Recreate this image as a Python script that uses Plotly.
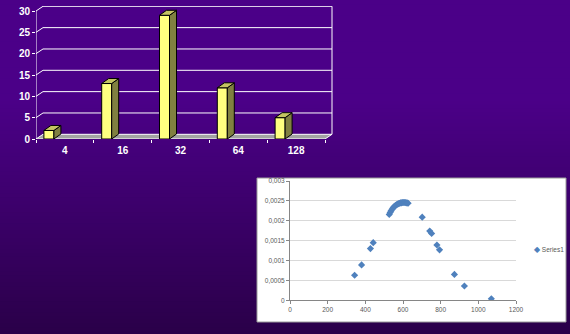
import plotly.graph_objects as go

# ---------------- data ----------------
categories = ["4", "16", "32", "64", "128"]
counts = [2, 13, 29, 12, 5]
bar_y_ticks = [0, 5, 10, 15, 20, 25, 30]

scatter_x = [343, 380, 427, 442,
             527, 532, 537, 542, 547, 552, 557, 562, 567, 572, 577,
             582, 587, 592, 597, 602, 607, 612, 617, 622, 627,
             702, 742, 752, 780, 794, 873, 926, 1069]
scatter_y = [0.00063, 0.00089, 0.00130, 0.00145,
             0.00216, 0.00221, 0.00225, 0.00229, 0.00232, 0.00235, 0.00237,
             0.00239, 0.00241, 0.00242, 0.00243, 0.00244, 0.00245, 0.00245,
             0.00246, 0.00246, 0.00246, 0.00246, 0.00245, 0.00245, 0.00244,
             0.00209, 0.00174, 0.00168, 0.00139, 0.00127, 0.00065, 0.00036, 0.00004]
sc_x_ticks = [0, 200, 400, 600, 800, 1000, 1200]
sc_y_ticks = [0, 0.0005, 0.001, 0.0015, 0.002, 0.0025, 0.003]
sc_y_text = ["0", "0,0005", "0,001", "0,0015", "0,002", "0,0025", "0,003"]
series_name = "Series1"

# ---------------- geometry (styles) ----------------
W, H = 570, 334
CAT_PX = 57.8
Y_PX = 128 / 30
BAR_OFF = -21 / CAT_PX
BAR_W = 10 / CAT_PX
DX = 7 / CAT_PX
DY = 5 / Y_PX
WDX = 7 / CAT_PX
WDY = 4.7 / Y_PX
X_LEFT = -0.5
X_RIGHT_FRONT = len(categories) - 0.5


def px_x(p):
    return p / W


def px_y(p):
    return 1 - p / H


fig = go.Figure()

idx = list(range(len(categories)))

# front faces
fig.add_trace(go.Bar(
    x=idx, y=counts, width=BAR_W, offset=BAR_OFF,
    marker=dict(color="#FFFF80", line=dict(color="black", width=1)),
    xaxis="x", yaxis="y", showlegend=False, hoverinfo="skip"))

# side and top faces (derived from values)
sx, sy, tx, ty = [], [], [], []
for i, v in zip(idx, counts):
    xl = i + BAR_OFF
    xr = xl + BAR_W
    sx += [xr, xr + DX, xr + DX, xr, xr, None]
    sy += [0, DY, v + DY, v, 0, None]
    tx += [xl, xl + DX, xr + DX, xr, xl, None]
    ty += [v, v + DY, v + DY, v, v, None]
fig.add_trace(go.Scatter(x=sx, y=sy, mode="lines", fill="toself",
                         fillcolor="#808040", line=dict(color="black", width=1),
                         xaxis="x", yaxis="y", showlegend=False, hoverinfo="skip"))
fig.add_trace(go.Scatter(x=tx, y=ty, mode="lines", fill="toself",
                         fillcolor="#C4C462", line=dict(color="black", width=1),
                         xaxis="x", yaxis="y", showlegend=False, hoverinfo="skip"))

# scatter
fig.add_trace(go.Scatter(
    x=scatter_x, y=scatter_y, mode="markers", name=series_name,
    marker=dict(symbol="diamond", size=5.5, color="#4F81BD"),
    xaxis="x2", yaxis="y2", showlegend=False))

shapes = []
# background gradient
top = (75, 0, 136)
bot = (42, 0, 72)
N = 90
for k in range(N):
    y0 = k / N
    y1 = (k + 1) / N
    t = 1 - (y0 + y1) / 2  # 0 at top, 1 at bottom
    f = max(0.0, (t - 0.3) / 0.7)
    c = tuple(round(top[j] + (bot[j] - top[j]) * f) for j in range(3))
    shapes.append(dict(type="rect", xref="paper", yref="paper",
                       x0=0, x1=1, y0=y0 - 0.002, y1=y1 + 0.002,
                       fillcolor="rgb(%d,%d,%d)" % c, line=dict(width=0),
                       layer="below"))
# white box for scatter
shapes.append(dict(type="rect", xref="paper", yref="paper",
                   x0=px_x(257), x1=px_x(566), y0=px_y(322), y1=px_y(178),
                   fillcolor="white", line=dict(color="#9A9A9A", width=1),
                   layer="below"))

# 3D floor
shapes.append(dict(type="path", xref="x", yref="y",
                   path="M %f,0 L %f,0 L %f,%f L %f,%f Z" % (
                       X_LEFT, X_RIGHT_FRONT, X_RIGHT_FRONT + WDX, WDY, X_LEFT + WDX, WDY),
                   fillcolor="#A3A3A3", line=dict(width=0), layer="below"))
wl = dict(color="white", width=1)
# walls / gridlines
for k in bar_y_ticks:
    shapes.append(dict(type="line", xref="x", yref="y",
                       x0=X_LEFT + WDX, x1=X_RIGHT_FRONT + WDX, y0=k + WDY, y1=k + WDY,
                       line=wl, layer="below"))
    shapes.append(dict(type="line", xref="x", yref="y",
                       x0=X_LEFT, x1=X_LEFT + WDX, y0=k, y1=k + WDY,
                       line=wl, layer="below"))
shapes.append(dict(type="line", xref="x", yref="y", x0=X_LEFT, x1=X_LEFT,
                   y0=0, y1=bar_y_ticks[-1], line=wl, layer="below"))
shapes.append(dict(type="line", xref="x", yref="y",
                   x0=X_RIGHT_FRONT + WDX, x1=X_RIGHT_FRONT + WDX,
                   y0=WDY, y1=bar_y_ticks[-1] + WDY, line=wl, layer="below"))
shapes.append(dict(type="line", xref="x", yref="y", x0=X_LEFT, x1=X_RIGHT_FRONT,
                   y0=0, y1=0, line=wl, layer="below"))
shapes.append(dict(type="line", xref="x", yref="y", x0=X_RIGHT_FRONT,
                   x1=X_RIGHT_FRONT + WDX, y0=0, y1=WDY, line=wl, layer="below"))

bar_font = dict(family="Liberation Sans, Arial", size=10, color="white")
sc_font = dict(family="Liberation Sans, Arial", size=6.5, color="#595959")

fig.update_layout(
    width=W, height=H, template="none",
    margin=dict(l=0, r=0, t=0, b=0, pad=0),
    paper_bgcolor="#3A006A", plot_bgcolor="rgba(0,0,0,0)",
    showlegend=False, shapes=shapes,
    xaxis=dict(domain=[px_x(36), px_x(334)], range=[X_LEFT, X_LEFT + 298 / CAT_PX],
               tickvals=idx, ticktext=["<b>%s</b>" % c for c in categories],
               tickfont=bar_font, ticks="", showgrid=False, zeroline=False,
               showline=False, automargin=False, ticklabelstandoff=4,
               minor=dict(tick0=-0.5, dtick=1, ticks="outside", ticklen=3,
                          tickcolor="white", tickwidth=1, showgrid=False)),
    yaxis=dict(domain=[px_y(139), px_y(6)], range=[0, 133 / Y_PX],
               tickvals=bar_y_ticks, ticktext=["<b>%d</b>" % v for v in bar_y_ticks],
               tickfont=bar_font, ticks="outside", ticklen=3, tickcolor="white",
               showgrid=False, zeroline=False, showline=False, automargin=False),
    xaxis2=dict(domain=[px_x(290), px_x(516)], range=[0, 1200], anchor="y2",
                tickvals=sc_x_ticks, ticks="outside", ticklen=3, tickcolor="#868686",
                tickfont=sc_font, showgrid=False, zeroline=False,
                showline=True, linecolor="#868686", linewidth=1, automargin=False),
    yaxis2=dict(domain=[px_y(300.3), px_y(181)], range=[0, 0.003], anchor="x2",
                tickvals=sc_y_ticks, ticktext=sc_y_text, ticks="outside", ticklen=3,
                tickcolor="#868686", tickfont=sc_font, showgrid=True,
                gridcolor="#D9D9D9", gridwidth=1, zeroline=False,
                showline=True, linecolor="#868686", linewidth=1, automargin=False),
    annotations=[dict(xref="paper", yref="paper", x=px_x(532), y=px_y(249),
                      xanchor="left", yanchor="middle", showarrow=False,
                      text='<span style="color:#4F81BD;font-size:8px">◆</span> ' + series_name,
                      font=sc_font)],
)

fig.write_html("out.html")
